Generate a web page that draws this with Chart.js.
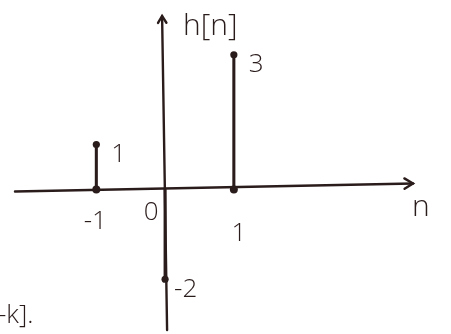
<!DOCTYPE html>
<html>
<head>
<meta charset="utf-8">
<script src="https://cdn.jsdelivr.net/npm/chart.js@4/dist/chart.umd.min.js"></script>
<style>
    html, body { margin: 0; padding: 0; background: #ffffff; }
    #wrap { width: 451px; height: 334px; }
</style>
</head>
<body>
<div id="wrap"><canvas id="hChart" width="451" height="334"></canvas></div>
<script>
    // h[n] samples
    var nValues = [-1, 0, 1];
    var hValues = [1, -2, 3];
    var valueLabels = ['1', '-2', '3'];

    // labels along the n axis
    var tickValues = [-1, 0, 1];
    var tickLabels = ['-1', '0', '1'];

    var INK = '#2b1c1c';
    var HAND_FONT = '300 26px "Open Sans", "DejaVu Sans", sans-serif';

    var stemData = nValues.map(function (n, i) { return {x: n, y: hValues[i]}; });
    var baseData = nValues.filter(function (n) { return n !== 0; })
        .map(function (n) { return {x: n, y: 0}; });

    function arrowHead(ctx, x, y, angle, size) {
        ctx.beginPath();
        ctx.moveTo(x - size * Math.cos(angle - 0.55), y - size * Math.sin(angle - 0.55));
        ctx.lineTo(x, y);
        ctx.lineTo(x - size * Math.cos(angle + 0.55), y - size * Math.sin(angle + 0.55));
        ctx.stroke();
    }

    // axes, arrows and the hand-written labels
    var axesPlugin = {
        id: 'stemAxes',
        beforeDatasetsDraw: function (chart) {
            var ctx = chart.ctx;
            var xs = chart.scales.x;
            var ys = chart.scales.y;
            var x0 = xs.getPixelForValue(0);
            var y0 = ys.getPixelForValue(0);
            ctx.save();
            ctx.strokeStyle = INK;
            ctx.lineWidth = 2.4;
            ctx.lineCap = 'round';
            // n axis, drawn with a slight rise to the right
            ctx.beginPath();
            ctx.moveTo(15, y0 + 2);
            ctx.lineTo(413, y0 - 6);
            ctx.stroke();
            arrowHead(ctx, 413, y0 - 6, -0.02, 10);
            // h axis
            ctx.beginPath();
            ctx.moveTo(x0 + 2, 330);
            ctx.lineTo(x0 - 3, 16);
            ctx.stroke();
            arrowHead(ctx, x0 - 3, 16, -Math.PI / 2 - 0.02, 8);
            ctx.restore();
        },
        afterDatasetsDraw: function (chart) {
            var ctx = chart.ctx;
            var xs = chart.scales.x;
            var ys = chart.scales.y;
            var y0 = ys.getPixelForValue(0);
            ctx.save();
            ctx.fillStyle = INK;
            ctx.font = HAND_FONT;
            ctx.textBaseline = 'middle';
            ctx.textAlign = 'center';
            // n axis labels: 0 sits left of the h axis, the others under their stems
            var tickOffsets = {'-1': [-1, 32], '0': [-14, 23], '1': [5, 44]};
            tickValues.forEach(function (v, i) {
                var off = tickOffsets[String(v)];
                ctx.fillText(tickLabels[i], xs.getPixelForValue(v) + off[0], y0 + off[1]);
            });
            // sample values beside each dot
            ctx.textAlign = 'left';
            nValues.forEach(function (n, i) {
                var px = xs.getPixelForValue(n);
                var py = ys.getPixelForValue(hValues[i]);
                ctx.fillText(valueLabels[i], px + (hValues[i] < 0 ? 9 : 15), py + 10);
            });
            ctx.font = '300 30px "Open Sans", "DejaVu Sans", sans-serif';
            ctx.fillText('h[n]', xs.getPixelForValue(0) + 18, 26);
            ctx.fillText('n', 412, y0 + 18);
            ctx.font = HAND_FONT;
            ctx.fillText('-k].', -2, 316);
            ctx.restore();
        }
    };

    new Chart(document.getElementById('hChart'), {
        type: 'bar',
        data: {
            datasets: [{
                type: 'bar',
                data: stemData,
                backgroundColor: INK,
                barThickness: 2.4,
                borderWidth: 0,
                order: 2
            }, {
                type: 'scatter',
                data: stemData,
                pointRadius: 3.6,
                pointBackgroundColor: INK,
                pointBorderWidth: 0,
                order: 1
            }, {
                type: 'scatter',
                data: baseData,
                pointRadius: 4,
                pointBackgroundColor: INK,
                pointBorderWidth: 0,
                order: 1
            }]
        },
        options: {
            responsive: false,
            animation: false,
            layout: {padding: 0},
            plugins: {
                legend: {display: false},
                tooltip: {enabled: false}
            },
            scales: {
                x: {type: 'linear', display: false, min: -164 / 70, max: 287 / 70, offset: false},
                y: {type: 'linear', display: false, min: -144 / 46, max: 190 / 46}
            }
        },
        plugins: [axesPlugin]
    });
</script>
</body>
</html>
